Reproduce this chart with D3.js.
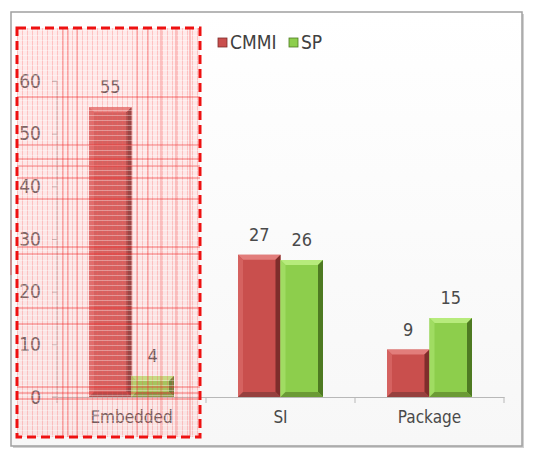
<!DOCTYPE html>
<html><head><meta charset="utf-8">
<script src="https://cdn.jsdelivr.net/npm/d3@7"></script>
<style>
html,body{margin:0;padding:0;background:#fff;}
text{font-family:"DejaVu Sans",sans-serif;font-stretch:condensed;fill:#4a4a4a;}
</style></head>
<body>
<svg id="c" width="550" height="466"></svg>
<script>
const categories = ["Embedded", "SI", "Package"];
const seriesNames = ["CMMI", "SP"];
const cmmiValues = [55, 27, 9];
const spValues = [4, 26, 15];
const yTicks = [0, 10, 20, 30, 40, 50, 60];

const svg = d3.select("#c");
const defs = svg.append("defs");

const bg = defs.append("linearGradient").attr("id","bg").attr("x1",0).attr("y1",0).attr("x2",0).attr("y2",1);
bg.append("stop").attr("offset","0%").attr("stop-color","#ffffff");
bg.append("stop").attr("offset","100%").attr("stop-color","#f7f7f7");

const pat = defs.append("pattern").attr("id","grid").attr("patternUnits","userSpaceOnUse")
  .attr("width",5).attr("height",5).attr("x",17).attr("y",28);
pat.append("rect").attr("width",5).attr("height",5).attr("fill","rgba(255,160,160,0.22)");
pat.append("line").attr("x1",0.5).attr("x2",0.5).attr("y1",0).attr("y2",5).attr("stroke","rgba(255,90,90,0.28)").attr("stroke-width",1);
pat.append("line").attr("x1",0).attr("x2",5).attr("y1",2.5).attr("y2",2.5).attr("stroke","rgba(255,255,255,0.35)").attr("stroke-width",1);

svg.append("rect").attr("x",13).attr("y",14).attr("width",511).attr("height",434).attr("fill","#d0d0d0");
svg.append("rect").attr("x",11).attr("y",12).attr("width",511).attr("height",434)
  .attr("fill","url(#bg)").attr("stroke","#a0a0a0").attr("stroke-width",1.5);

const x0 = d3.scaleBand().domain(categories).range([57, 504]).paddingInner(0).paddingOuter(0);
const groupW = 85;
const x1 = d3.scaleBand().domain(seriesNames).range([0, groupW]).padding(0);
const y = d3.scaleLinear().domain([0, 60]).range([397, 81]);

const colors = {
  CMMI: {main:"#c94f4d", top:"#e27d7b", left:"#d56260", right:"#7e2d2b", bottom:"#96403e"},
  SP:   {main:"#8dce4c", top:"#b7eb7c", left:"#a0dc62", right:"#4e7a22", bottom:"#6b9a35"}
};

const yAxis = d3.axisLeft(y).tickValues(yTicks).tickSize(5).tickPadding(11).tickFormat(d3.format("d"));
const gy = svg.append("g").attr("transform","translate(57,0)").call(yAxis);
gy.select(".domain").attr("stroke","#b8b8b8").attr("d","M-5,81H0V397H-5");
gy.selectAll(".tick line").attr("stroke","#b8b8b8");
gy.selectAll(".tick text").style("font-size","19px").style("fill","#555");

const xAxis = d3.axisBottom(x0).tickSize(0).tickPadding(14);
const gx = svg.append("g").attr("transform","translate(0,397)").call(xAxis);
gx.select(".domain").attr("stroke","#b8b8b8");
gx.selectAll(".tick text").style("font-size","17px").style("fill","#4a4a4a");
const bounds = categories.map(c => x0(c)).concat([x0(categories[categories.length-1]) + x0.bandwidth()]);
gx.selectAll(".bnd").data(bounds).enter().append("line").attr("class","bnd")
  .attr("x1",d=>d).attr("x2",d=>d).attr("y1",0).attr("y2",6).attr("stroke","#b8b8b8");

const data = [];
categories.forEach((c,i)=>{
  data.push({cat:c, s:"CMMI", v:cmmiValues[i]});
  data.push({cat:c, s:"SP", v:spValues[i]});
});
const bw = x1.bandwidth();
const bev = 5;
const bars = svg.append("g").selectAll("g.bar").data(data).enter().append("g").attr("class","bar")
  .attr("transform", d => `translate(${x0(d.cat) + (x0.bandwidth()-groupW)/2 + x1(d.s)},0)`);
bars.each(function(d){
  const g = d3.select(this);
  const col = colors[d.s];
  const top = y(d.v), bot = y(0), h = bot - top;
  const b = Math.min(bev, h/2);
  g.append("rect").attr("x",0).attr("y",top).attr("width",bw).attr("height",h).attr("fill",col.main);
  g.append("path").attr("d",`M0,${top}H${bw}L${bw-b},${top+b}H${b}Z`).attr("fill",col.top);
  g.append("path").attr("d",`M0,${top}L${b},${top+b}V${bot-b}L0,${bot}Z`).attr("fill",col.left);
  g.append("path").attr("d",`M${bw},${top}L${bw-b},${top+b}V${bot-b}L${bw},${bot}Z`).attr("fill",col.right);
  g.append("path").attr("d",`M0,${bot}L${b},${bot-b}H${bw-b}L${bw},${bot}Z`).attr("fill",col.bottom);
  g.append("text").attr("x",bw/2).attr("y",top-14).attr("text-anchor","middle")
    .style("font-size","18px").style("fill","#4a4a4a").text(d.v);
});

const leg = svg.append("g").attr("transform","translate(218,34)");
const lx = [0, 71];
seriesNames.forEach((s,i)=>{
  const g = leg.append("g").attr("transform",`translate(${lx[i]},0)`);
  g.append("rect").attr("x",0).attr("y",4).attr("width",9).attr("height",9).attr("fill",colors[s].main)
    .attr("stroke",colors[s].right).attr("stroke-width",0.8);
  g.append("text").attr("x",12).attr("y",15).style("font-size","19px").style("fill","#404040").text(s);
});

svg.append("rect").attr("x",17).attr("y",28).attr("width",183).attr("height",409)
  .attr("fill","url(#grid)");
const hLines = [97, 145, 159, 166, 178, 199, 247, 254, 308, 324, 387, 393, 399];
svg.append("g").selectAll("line").data(hLines).enter().append("line")
  .attr("x1",17).attr("x2",200).attr("y1",d=>d).attr("y2",d=>d)
  .attr("stroke","rgba(240,40,40,0.6)").attr("stroke-width",1);
const vLines = [63, 68, 77, 137, 148, 161, 176, 190];
svg.append("g").selectAll("line").data(vLines).enter().append("line")
  .attr("x1",d=>d).attr("x2",d=>d).attr("y1",28).attr("y2",437)
  .attr("stroke","rgba(240,40,40,0.45)").attr("stroke-width",1);
svg.append("rect").attr("x",17).attr("y",28).attr("width",183).attr("height",409)
  .attr("fill","none").attr("stroke","#ee1111").attr("stroke-width",3).attr("stroke-dasharray","9,5");
svg.append("line").attr("x1",11).attr("x2",11).attr("y1",230).attr("y2",275).attr("stroke","rgba(255,0,0,0.5)").attr("stroke-width",1);
</script>
</body></html>
